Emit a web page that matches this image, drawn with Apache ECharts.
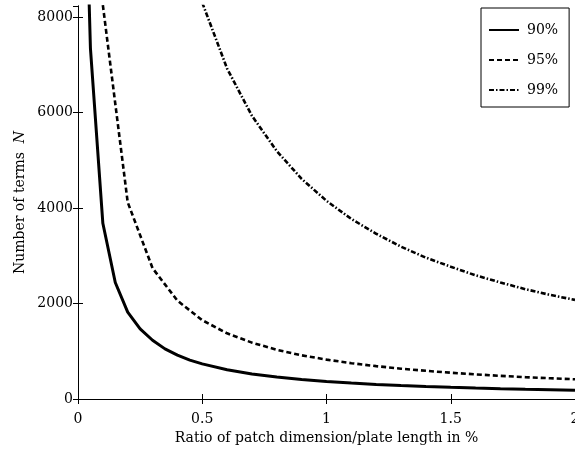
<!DOCTYPE html>
<html>
<head>
<meta charset="utf-8">
<script src="https://cdn.jsdelivr.net/npm/echarts@6/dist/echarts.min.js"></script>
<style>
  html, body { margin: 0; padding: 0; background: #fff; }
  #chart { width: 575px; height: 454px; }
</style>
</head>
<body>
<div id="chart"></div>
<script>
// values
const x90 = [0.04, 0.05, 0.1, 0.15, 0.2, 0.25, 0.3, 0.35, 0.4, 0.45, 0.5, 0.6, 0.7, 0.8, 0.9, 1.0, 1.1, 1.2, 1.3, 1.4, 1.5, 1.6, 1.7, 1.8, 1.9, 2.0]
const n90 = [9200, 7350, 3680, 2440, 1820, 1470, 1230, 1050, 920, 815, 735, 612, 525, 460, 408, 368, 334, 306, 283, 262, 245, 230, 216, 204, 194, 185]

const x95 = [0.1, 0.2, 0.3, 0.4, 0.5, 0.6, 0.7, 0.8, 0.9, 1.0, 1.1, 1.2, 1.3, 1.4, 1.5, 1.6, 1.7, 1.8, 1.9, 2.0]
const n95 = [8250, 4120, 2740, 2060, 1650, 1375, 1180, 1030, 915, 825, 750, 688, 635, 590, 550, 516, 485, 458, 434, 413]

const x99 = [0.5, 0.6, 0.7, 0.8, 0.9, 1.0, 1.1, 1.2, 1.3, 1.4, 1.5, 1.6, 1.7, 1.8, 1.9, 2.0]
const n99 = [8300, 6920, 5930, 5190, 4610, 4150, 3770, 3460, 3190, 2960, 2770, 2590, 2440, 2300, 2180, 2075]

const legendNames = ['90%', '95%', '99%']

const pairs = (xs, ys) => xs.map((x, i) => [x, ys[i]])

const font = 'DejaVu Serif'
// inward ticks, like the matlab box
const tickStyle = () => ({ show: true, inside: true, length: 5, lineStyle: { color: '#000', width: 1 } })

let chart = echarts.init(document.getElementById('chart'))

const option = {
    animation: false,
    backgroundColor: '#fff',
    textStyle: { fontFamily: font, color: '#000' },
    grid: { left: 78, right: 0, top: 6, bottom: 55, containLabel: false, outerBoundsMode: 'none' },
    legend: {
        orient: 'vertical',
        left: 481,
        top: 8,
        data: legendNames,
        backgroundColor: '#fff',
        borderColor: '#000',
        borderWidth: 1,
        borderRadius: 0,
        padding: [15, 11, 10, 7],
        itemWidth: 30,
        itemHeight: 14,
        itemGap: 16,
        itemStyle: { opacity: 0 }, // hide the circle symbol, keep only the line
        textStyle: { fontFamily: font, fontSize: 14, color: '#000', padding: [0, 0, 0, 3] }
    },
    xAxis: [
        {
            type: 'value', min: 0, max: 2, interval: 0.5,
            name: 'Ratio of patch dimension/plate length in %',
            nameLocation: 'middle', nameGap: 32, nameMoveOverlap: false,
            nameTextStyle: { fontFamily: font, fontSize: 14, color: '#000' },
            axisLine: { lineStyle: { color: '#000', width: 1 } },
            axisTick: tickStyle(),
            axisLabel: { fontFamily: font, fontSize: 14, color: '#000', margin: 13, formatter: v => String(v) },
            splitLine: { show: false }
        },
        {
            type: 'value', min: 0, max: 2, interval: 0.5, position: 'top',
            axisLine: { show: true, lineStyle: { color: '#000', width: 1 } },
            axisTick: tickStyle(),
            axisLabel: { show: false },
            splitLine: { show: false }
        }
    ],
    yAxis: [
        {
            type: 'value', min: 0, max: 8230, interval: 2000, position: 'left',
            name: 'Number of terms  {i|N}',
            nameLocation: 'middle', nameGap: 51, nameMoveOverlap: false,
            nameTextStyle: {
                fontFamily: font, fontSize: 14, color: '#000',
                rich: { i: { fontFamily: font, fontSize: 14, fontStyle: 'italic', color: '#000' } }
            },
            axisLine: { show: true, lineStyle: { color: '#000', width: 1 } },
            axisTick: tickStyle(),
            axisLabel: { fontFamily: font, fontSize: 14, color: '#000', margin: 5, showMaxLabel: false, formatter: v => String(v) },
            splitLine: { show: false }
        },
        {
            type: 'value', min: 0, max: 8230, interval: 2000, position: 'right',
            axisLine: { show: true, lineStyle: { color: '#000', width: 1 } },
            axisTick: tickStyle(),
            axisLabel: { show: false },
            splitLine: { show: false }
        }
    ],
    series: [
        {
            name: '90%', type: 'line', symbol: 'none', clip: true,
            data: pairs(x90, n90),
            lineStyle: { color: '#000', width: 3, type: 'solid' },
            itemStyle: { color: '#000' }
        },
        {
            name: '95%', type: 'line', symbol: 'none', clip: true,
            data: pairs(x95, n95),
            lineStyle: { color: '#000', width: 2.6, type: [5, 3] },
            itemStyle: { color: '#000' }
        },
        {
            name: '99%', type: 'line', symbol: 'none', clip: true,
            data: pairs(x99, n99),
            lineStyle: { color: '#000', width: 2.6, type: [5, 2, 1.5, 2] },
            itemStyle: { color: '#000' }
        }
    ]
}

option && chart.setOption(option)

window.addEventListener('resize', function () {
    chart.resize()
})
</script>
</body>
</html>
